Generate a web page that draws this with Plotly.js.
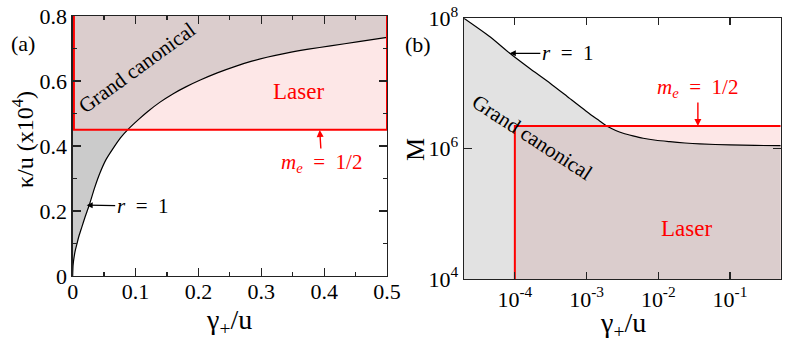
<!DOCTYPE html>
<html>
<head>
<meta charset="utf-8">
<script src="https://cdn.plot.ly/plotly-3.0.1.min.js"></script>
<style>
html,body{margin:0;padding:0;background:#fff;}
#chart{width:789px;height:345px;}
#chart svg text{font-family:'Liberation Serif','Times New Roman',serif !important;}
</style>
</head>
<body>
<div id="chart"></div>
<script>
// Panel (a): r = 1 boundary, kappa/u (x10^4) vs gamma_+/u
const gammaA = [0, 0.0005, 0.001, 0.002, 0.004, 0.0063, 0.01, 0.0143, 0.02, 0.026, 0.035, 0.0434, 0.053, 0.0641, 0.076, 0.0885,
                0.105, 0.12, 0.139, 0.16, 0.18, 0.203, 0.23, 0.26, 0.285, 0.309, 0.34, 0.375, 0.41, 0.455, 0.5];
const kappaA = [0, 0.03, 0.04, 0.055, 0.077, 0.095, 0.123, 0.149, 0.183, 0.216, 0.272, 0.317, 0.358, 0.392, 0.425, 0.452,
                0.482, 0.507, 0.535, 0.561, 0.582, 0.603, 0.625, 0.646, 0.661, 0.673, 0.686, 0.698, 0.708, 0.721, 0.734];
const meLevelA = 0.45;      // m_e = 1/2 line
const laserLeftA = 0.002;
const xMaxA = 0.5, yMaxA = 0.8;

// Panel (b): r = 1 boundary, M vs gamma_+/u (log-log)
const gammaB = [1.95e-5, 4.5e-5, 8.5e-5, 1.6e-4, 3.1e-4, 5.8e-4, 1.11e-3, 1.49e-3, 2.0e-3, 2.55e-3, 3.24e-3, 4.43e-3,
                6.15e-3, 9.27e-3, 1.45e-2, 2.35e-2, 3.8e-2, 0.1, 0.223, 0.51];
const MB     = [1e8, 5.2e7, 2.9e7, 1.71e7, 1.01e7, 5.9e6, 3.4e6, 2.71e6, 2.17e6, 1.9e6, 1.72e6, 1.57e6,
                1.445e6, 1.345e6, 1.28e6, 1.22e6, 1.18e6, 1.14e6, 1.12e6, 1.11e6];
const meLevelB = 2.23e6;
const laserLeftB = 1e-4;
const xMaxB = 0.51, yMinB = 1e4;

const xTickValsB = [1e-4, 1e-3, 1e-2, 1e-1];
const xTickTextB = ['10<sup>-4</sup>', '10<sup>-3</sup>', '10<sup>-2</sup>', '10<sup>-1</sup>'];
const yTickValsB = [1e4, 1e6, 1e8];
const yTickTextB = ['10<sup>4</sup>', '10<sup>6</sup>', '10<sup>8</sup>'];

const GRAY_A = '#cbcbcb', GRAY_B = '#e2e2e2', PINK = '#fde7e7', BROWN = '#dbcdcd', RED = '#ff0000';
const FONT = 'Liberation Serif';

function crossX(xs, ys, level, logMode) {
  for (let i = 0; i < xs.length - 1; i++) {
    const a = ys[i] - level, b = ys[i + 1] - level;
    if (a === 0) return {i: i, x: xs[i]};
    if (a * b < 0) {
      if (logMode) {
        const ly0 = Math.log10(ys[i]), ly1 = Math.log10(ys[i+1]), ll = Math.log10(level);
        const lx0 = Math.log10(xs[i]), lx1 = Math.log10(xs[i+1]);
        const t = (ll - ly0) / (ly1 - ly0);
        return {i: i, x: Math.pow(10, lx0 + t * (lx1 - lx0))};
      }
      const t = (level - ys[i]) / (ys[i + 1] - ys[i]);
      return {i: i, x: xs[i] + t * (xs[i + 1] - xs[i])};
    }
  }
  return null;
}

const cA = crossX(gammaA, kappaA, meLevelA, false);
const brownAx = [laserLeftA, cA.x], brownAy = [meLevelA, meLevelA];
for (let j = cA.i + 1; j < gammaA.length; j++) { brownAx.push(gammaA[j]); brownAy.push(kappaA[j]); }
brownAx.push(xMaxA, laserLeftA); brownAy.push(yMaxA, yMaxA);

const cB = crossX(gammaB, MB, meLevelB, true);
const brownBx = [laserLeftB, laserLeftB, cB.x], brownBy = [yMinB, meLevelB, meLevelB];
for (let j = cB.i + 1; j < gammaB.length; j++) { brownBx.push(gammaB[j]); brownBy.push(MB[j]); }
brownBx.push(xMaxB); brownBy.push(yMinB);

const fillTrace = (x, y, color, xa, ya) => ({x: x, y: y, xaxis: xa, yaxis: ya, type: 'scatter', mode: 'lines',
  fill: 'toself', fillcolor: color, line: {width: 0}, hoverinfo: 'skip', showlegend: false});

const traces = [
  fillTrace(gammaA.concat([xMaxA, 0]), kappaA.concat([yMaxA, yMaxA]), GRAY_A, 'x', 'y'),
  fillTrace([laserLeftA, xMaxA, xMaxA, laserLeftA], [meLevelA, meLevelA, yMaxA, yMaxA], PINK, 'x', 'y'),
  fillTrace(brownAx, brownAy, BROWN, 'x', 'y'),
  {x: gammaA, y: kappaA, type: 'scatter', mode: 'lines', line: {color: '#000', width: 1.2, shape: 'spline', smoothing: 0.6}, showlegend: false, xaxis: 'x', yaxis: 'y'},
  {x: [laserLeftA, laserLeftA, xMaxA, xMaxA], y: [yMaxA, meLevelA, meLevelA, yMaxA], type: 'scatter', mode: 'lines',
   line: {color: RED, width: 2}, cliponaxis: false, showlegend: false, xaxis: 'x', yaxis: 'y'},

  fillTrace(gammaB.concat([xMaxB, gammaB[0]]), MB.concat([yMinB, yMinB]), GRAY_B, 'x2', 'y2'),
  fillTrace([laserLeftB, xMaxB, xMaxB, laserLeftB], [yMinB, yMinB, meLevelB, meLevelB], PINK, 'x2', 'y2'),
  fillTrace(brownBx, brownBy, BROWN, 'x2', 'y2'),
  {x: gammaB, y: MB, type: 'scatter', mode: 'lines', line: {color: '#000', width: 1.2, shape: 'spline', smoothing: 0.6}, showlegend: false, xaxis: 'x2', yaxis: 'y2'},
  {x: [laserLeftB, laserLeftB, xMaxB], y: [yMinB, meLevelB, meLevelB], type: 'scatter', mode: 'lines',
   line: {color: RED, width: 2}, cliponaxis: false, showlegend: false, xaxis: 'x2', yaxis: 'y2'}
];

const axCommon = {showline: true, linecolor: '#222', linewidth: 1.3, mirror: 'ticks', ticks: 'inside',
  tickcolor: '#222', tickwidth: 1.2, showgrid: false, zeroline: false, tickfont: {size: 22, family: FONT, color: '#000'}};

const A = (o) => Object.assign({showarrow: false, xanchor: 'center', yanchor: 'middle'}, o);
const SP = '&nbsp;&nbsp;';

const layout = {
  width: 789, height: 345, margin: {l: 0, r: 0, t: 0, b: 0}, paper_bgcolor: '#fff', plot_bgcolor: '#fff',
  font: {family: FONT, size: 20, color: '#000'}, showlegend: false,
  xaxis: Object.assign({}, axCommon, {domain: [0.0921, 0.4905], range: [0, 0.5], dtick: 0.1, tick0: 0, ticklen: 8,
    ticklabelstandoff: -5,
    minor: {dtick: 0.05, ticklen: 4, ticks: 'inside', tickcolor: '#222', showgrid: false}, anchor: 'y'}),
  yaxis: Object.assign({}, axCommon, {domain: [0.2, 0.9536], range: [0, 0.8], dtick: 0.2, tick0: 0, ticklen: 8,
    minor: {dtick: 0.1, ticklen: 4, ticks: 'inside', tickcolor: '#222', showgrid: false}, anchor: 'x'}),
  xaxis2: Object.assign({}, axCommon, {type: 'log', domain: [0.588, 0.9895], range: [-4.71, -0.293],
    tickvals: xTickValsB, ticktext: xTickTextB, ticklen: 7, anchor: 'y2'}),
  yaxis2: Object.assign({}, axCommon, {type: 'log', domain: [0.1913, 0.947], range: [4, 8],
    tickvals: yTickValsB, ticktext: yTickTextB, ticklen: 8, anchor: 'x2'}),
  annotations: [
    // axis titles
    A({xref: 'paper', yref: 'paper', x: 0.2902, y: 0.0667, text: 'γ<sub>+</sub>/u', font: {size: 28}}),
    A({xref: 'paper', yref: 'paper', x: 0.0292, y: 0.594, text: 'κ/u (x10<sup>4</sup>)', textangle: -90, font: {size: 24}}),
    A({xref: 'paper', yref: 'paper', x: 0.7896, y: 0.058, text: 'γ<sub>+</sub>/u', font: {size: 28}}),
    A({xref: 'paper', yref: 'paper', x: 0.526, y: 0.565, text: 'M', textangle: -90, font: {size: 26}}),

    A({xref: 'paper', yref: 'paper', x: 0.029, y: 0.875, text: '(a)', font: {size: 22}}),
    A({xref: 'x', yref: 'y', x: 0.102, y: 0.64, text: 'Grand canonical', textangle: -36, font: {size: 21}}),
    A({xref: 'x', yref: 'y', x: 0.36, y: 0.569, text: 'Laser', font: {size: 23, color: RED}}),
    {xref: 'x', yref: 'y', x: 0.393, y: 0.449, ax: 2, ay: 33, text: '<i>m</i><sub><i>e</i></sub>' + SP + '=' + SP + '1/2', showarrow: true,
     arrowcolor: RED, arrowhead: 2, arrowsize: 1, arrowwidth: 1.4, font: {size: 21, color: RED}},
    {xref: 'x', yref: 'y', x: 0.0223, y: 0.218, ax: 56, ay: 1, text: '<i>r</i>' + SP + '=' + SP + '1', showarrow: true,
     arrowcolor: '#000', arrowhead: 2, arrowsize: 1, arrowwidth: 1.2, font: {size: 21}},

    A({xref: 'paper', yref: 'paper', x: 0.53, y: 0.87, text: '(b)', font: {size: 22}}),
    {xref: 'x2', yref: 'y2', x: -4.07, y: 7.463, ax: 58, ay: 0, text: '<i>r</i>' + SP + '=' + SP + '1', showarrow: true,
     arrowcolor: '#000', arrowhead: 2, arrowsize: 1, arrowwidth: 1.2, font: {size: 21}},
    {xref: 'x2', yref: 'y2', x: -1.448, y: Math.log10(meLevelB), ax: 0, ay: -38, text: '<i>m</i><sub><i>e</i></sub>' + SP + '=' + SP + '1/2', showarrow: true,
     arrowcolor: RED, arrowhead: 2, arrowsize: 1, arrowwidth: 1.4, font: {size: 21, color: RED}},
    A({xref: 'x2', yref: 'y2', x: -3.767, y: 6.172, text: 'Grand canonical', textangle: 33, font: {size: 21}}),
    A({xref: 'x2', yref: 'y2', x: -1.601, y: 4.768, text: 'Laser', font: {size: 23, color: RED}})
  ]
};

Plotly.newPlot('chart', traces, layout, {displayModeBar: false, staticPlot: true});
</script>
</body>
</html>
